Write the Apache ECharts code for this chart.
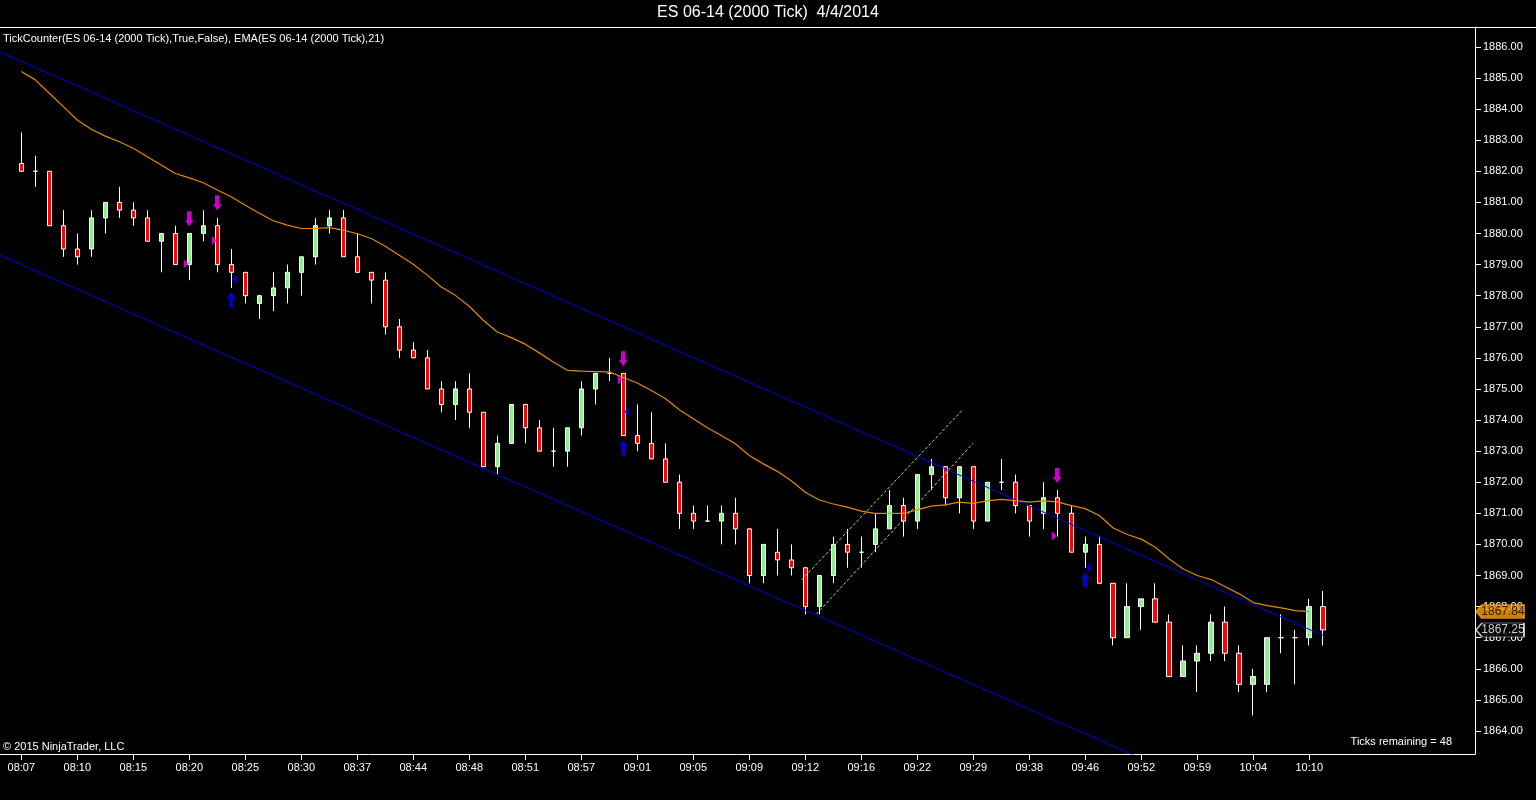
<!DOCTYPE html>
<html>
<head>
<meta charset="utf-8">
<title>ES 06-14 (2000 Tick)</title>
<script src="https://cdn.jsdelivr.net/npm/echarts@6.0.0/dist/echarts.min.js"></script>
<style>
  html, body { margin: 0; padding: 0; background: #000; }
  #main { width: 1536px; height: 800px; }
</style>
</head>
<body>
<div id="main"></div>
<script type="text/javascript">
// bar data, one entry per 2000-tick bar
var opens = [1882.25, 1882.0, 1882.0, 1880.25, 1879.5, 1879.5, 1880.5, 1881.0, 1880.75, 1880.5,
  1879.75, 1880.0, 1879.0, 1880.0, 1880.25, 1879.0, 1878.75, 1877.75, 1878.0, 1878.25,
  1878.75, 1879.25, 1880.25, 1880.5, 1879.25, 1878.75, 1878.5, 1877.0, 1876.25, 1876.0,
  1875.0, 1874.5, 1875.0, 1874.25, 1872.5, 1873.25, 1874.5, 1873.75, 1873.0, 1873.0,
  1873.75, 1875.0, 1875.5, 1875.5, 1873.5, 1873.25, 1872.75, 1872.0, 1871.0, 1870.75,
  1870.75, 1871.0, 1870.5, 1869.0, 1869.75, 1869.5, 1869.25, 1868.0, 1869.0, 1870.0,
  1869.75, 1870.0, 1870.5, 1871.25, 1870.75, 1872.25, 1872.5, 1871.5, 1872.5, 1870.75,
  1872.0, 1872.0, 1871.25, 1871.0, 1871.5, 1871.0, 1869.75, 1870.0, 1868.75, 1867.0,
  1868.0, 1868.25, 1867.5, 1865.75, 1866.25, 1866.5, 1867.5, 1866.5, 1865.5, 1865.5,
  1867.0, 1867.0, 1867.0, 1868.0];
var closes = [1882.0, 1882.0, 1880.25, 1879.5, 1879.25, 1880.5, 1881.0, 1880.75, 1880.5, 1879.75,
  1880.0, 1879.0, 1880.0, 1880.25, 1879.0, 1878.75, 1878.0, 1878.0, 1878.25, 1878.75,
  1879.25, 1880.25, 1880.5, 1879.25, 1878.75, 1878.5, 1877.0, 1876.25, 1876.0, 1875.0,
  1874.5, 1875.0, 1874.25, 1872.5, 1873.25, 1874.5, 1873.75, 1873.0, 1873.0, 1873.75,
  1875.0, 1875.5, 1875.5, 1873.5, 1873.25, 1872.75, 1872.0, 1871.0, 1870.75, 1870.75,
  1871.0, 1870.5, 1869.0, 1870.0, 1869.5, 1869.25, 1868.0, 1869.0, 1870.0, 1869.75,
  1869.75, 1870.5, 1871.25, 1870.75, 1872.25, 1872.5, 1871.5, 1872.5, 1870.75, 1872.0,
  1872.0, 1871.25, 1870.75, 1871.5, 1871.0, 1869.75, 1870.0, 1868.75, 1867.0, 1868.0,
  1868.25, 1867.5, 1865.75, 1866.25, 1866.5, 1867.5, 1866.5, 1865.5, 1865.75, 1867.0,
  1867.0, 1867.0, 1868.0, 1867.25];
var lows = [1882.0, 1881.5, 1880.25, 1879.25, 1879.0, 1879.25, 1880.0, 1880.5, 1880.25, 1879.75,
  1878.75, 1879.0, 1878.5, 1879.75, 1878.75, 1878.25, 1877.75, 1877.25, 1877.5, 1877.75,
  1878.0, 1879.0, 1880.0, 1879.25, 1878.75, 1877.75, 1876.75, 1876.0, 1876.0, 1875.0,
  1874.25, 1874.0, 1873.75, 1872.5, 1872.25, 1873.25, 1873.25, 1873.0, 1872.5, 1872.5,
  1873.5, 1874.5, 1875.25, 1873.5, 1873.0, 1872.75, 1872.0, 1870.5, 1870.5, 1870.75,
  1870.0, 1870.0, 1868.75, 1868.75, 1869.0, 1869.0, 1867.75, 1867.75, 1868.75, 1869.25,
  1869.25, 1869.75, 1870.5, 1870.25, 1870.5, 1871.75, 1871.25, 1871.0, 1870.5, 1870.75,
  1871.75, 1871.0, 1870.25, 1870.5, 1870.25, 1869.75, 1869.25, 1868.75, 1866.75, 1867.0,
  1867.25, 1867.5, 1865.75, 1865.75, 1865.25, 1866.25, 1866.25, 1865.25, 1864.5, 1865.25,
  1866.5, 1865.5, 1866.75, 1866.75];
var highs = [1883.25, 1882.5, 1882.0, 1880.75, 1880.0, 1880.75, 1881.0, 1881.5, 1881.0, 1880.75,
  1880.0, 1880.25, 1880.0, 1880.75, 1880.5, 1879.5, 1878.75, 1878.0, 1878.75, 1879.0,
  1879.25, 1880.5, 1880.75, 1880.75, 1880.0, 1878.75, 1878.75, 1877.25, 1876.5, 1876.25,
  1875.25, 1875.25, 1875.5, 1874.25, 1873.5, 1874.5, 1874.5, 1874.0, 1873.75, 1873.75,
  1875.25, 1875.5, 1876.0, 1875.5, 1874.5, 1874.25, 1873.25, 1872.25, 1871.25, 1871.25,
  1871.25, 1871.5, 1870.5, 1870.0, 1870.5, 1870.0, 1869.25, 1869.0, 1870.25, 1870.5,
  1870.25, 1871.0, 1871.75, 1871.5, 1872.25, 1872.75, 1872.5, 1872.5, 1872.5, 1872.0,
  1872.75, 1872.25, 1871.25, 1872.0, 1871.75, 1871.25, 1870.25, 1870.25, 1868.75, 1868.75,
  1868.25, 1868.75, 1867.75, 1866.75, 1866.75, 1867.75, 1868.0, 1866.75, 1866.0, 1867.0,
  1867.75, 1867.25, 1868.25, 1868.5];

// EMA(21), not plotted for the bar still forming
var ema21 = [1885.21, 1884.94, 1884.51, 1884.08, 1883.65, 1883.35, 1883.13, 1882.95, 1882.74, 1882.47,
  1882.20, 1881.93, 1881.79, 1881.63, 1881.40, 1881.18, 1880.91, 1880.65, 1880.41, 1880.27,
  1880.16, 1880.16, 1880.19, 1880.11, 1879.99, 1879.84, 1879.59, 1879.30, 1879.01, 1878.66,
  1878.28, 1878.01, 1877.66, 1877.21, 1876.83, 1876.65, 1876.44, 1876.16, 1875.87, 1875.60,
  1875.57, 1875.56, 1875.55, 1875.37, 1875.19, 1874.95, 1874.69, 1874.33, 1874.04, 1873.75,
  1873.50, 1873.24, 1872.86, 1872.59, 1872.35, 1872.05, 1871.68, 1871.43, 1871.30, 1871.20,
  1871.07, 1871.00, 1871.00, 1871.00, 1871.11, 1871.23, 1871.27, 1871.36, 1871.32, 1871.40,
  1871.45, 1871.41, 1871.36, 1871.40, 1871.37, 1871.25, 1871.15, 1870.93, 1870.53, 1870.32,
  1870.17, 1869.91, 1869.53, 1869.21, 1869.00, 1868.87, 1868.64, 1868.41, 1868.13, 1868.03,
  1867.96, 1867.87, 1867.84];

// x axis labels, one every 4 bars
var timeLabels = ['08:07', '08:10', '08:15', '08:20', '08:25', '08:30', '08:37', '08:44', '08:48', '08:51',
  '08:57', '09:01', '09:05', '09:09', '09:12', '09:16', '09:22', '09:29', '09:38', '09:46',
  '09:52', '09:59', '10:04', '10:10'];
var timeLabelPos = [0, 4, 8, 12, 16, 20, 24, 28, 32, 36, 40, 44, 48, 52, 56, 60, 64,
  68, 72, 76, 80, 84, 88, 92];
var priceTicks = [1864, 1865, 1866, 1867, 1868, 1869, 1870, 1871, 1872, 1873, 1874, 1875,
  1876, 1877, 1878, 1879, 1880, 1881, 1882, 1883, 1884, 1885, 1886];

// drawn objects: regression channel and the short up channel
var upperChannel = [[-1.52, 1885.84], [93, 1867.07]];
var lowerChannel = [[-1.52, 1879.30], [93, 1860.53]];
var upperDash = [[55.74, 1868.86], [67.26, 1874.34]];
var lowerDash = [[56.81, 1867.76], [67.98, 1873.25]];

// TickCounter signals
var sellArrows = [[12, 1880.47], [14, 1880.99], [43, 1875.97], [74, 1872.22]];
var buyArrows = [[15, 1877.88], [43, 1873.11], [76, 1868.86]];
var sellMarks = [[12, 1879.03], [14, 1879.77], [43, 1875.29], [74, 1870.27]];
var buyMarks = [[15, 1878.51], [43, 1874.27], [76, 1869.26]];

var xMin = -1.52, xMax = 103.84;
var yMin = 1863.26, yMax = 1886.64;
var FONT = '"Liberation Sans", Arial, sans-serif';

var candles = [];
for (var i = 0; i < opens.length; i++) {
  candles.push([i, opens[i], closes[i], lows[i], highs[i]]);
}
var emaData = ema21.map(function (v, i) { return [i, v]; });
var lastClose = closes[closes.length - 1];
var lastEma = ema21[ema21.length - 1];

function lineSeries(data, color, type) {
  return {
    type: 'line',
    data: data,
    symbol: 'none',
    silent: true,
    clip: true,
    z: 4,
    lineStyle: { color: color, width: 1, type: type || 'solid' }
  };
}

var myChart = echarts.init(document.getElementById('main'));

var option = {
  backgroundColor: '#000',
  animation: false,
  grid: { left: 0, right: 61, top: 27, bottom: 46, containLabel: false },
  xAxis: {
    type: 'value',
    min: xMin,
    max: xMax,
    axisLine: { show: true, onZero: false, lineStyle: { color: '#fff', width: 1 } },
    axisTick: { show: true, length: 6, lineStyle: { color: '#fff' }, customValues: timeLabelPos },
    axisLabel: {
      show: true,
      color: '#fff',
      fontSize: 11,
      fontFamily: FONT,
      margin: 8,
      customValues: timeLabelPos,
      formatter: function (v) {
        var k = timeLabelPos.indexOf(v);
        return k >= 0 ? timeLabels[k] : '';
      }
    },
    splitLine: { show: false }
  },
  yAxis: {
    type: 'value',
    position: 'right',
    min: yMin,
    max: yMax,
    axisLine: { show: true, onZero: false, lineStyle: { color: '#fff', width: 1 } },
    axisTick: { show: true, length: 6, lineStyle: { color: '#fff' }, customValues: priceTicks },
    axisLabel: {
      show: true,
      color: '#fff',
      fontSize: 11,
      fontFamily: FONT,
      margin: 8,
      customValues: priceTicks,
      formatter: function (v) { return v.toFixed(2); }
    },
    splitLine: { show: false }
  },
  series: [
    {
      name: 'ES 06-14',
      type: 'candlestick',
      data: candles,
      encode: { x: 0, y: [1, 2, 3, 4] },
      barWidth: 5,
      z: 2,
      itemStyle: {
        color: '#90ee90',
        color0: '#ff0000',
        borderColor: '#ffffff',
        borderColor0: '#ffffff',
        borderColorDoji: '#ffffff',
        borderWidth: 1
      }
    },
    lineSeries(upperChannel, '#0000e6'),
    lineSeries(lowerChannel, '#0000e6'),
    lineSeries(upperDash, '#b4e03c', [3, 2]),
    lineSeries(lowerDash, '#b4e03c', [3, 2]),
    {
      name: 'EMA',
      type: 'line',
      data: emaData,
      symbol: 'none',
      z: 5,
      lineStyle: { color: '#e08a00', width: 1.2 }
    },
    {
      type: 'scatter',
      data: sellArrows,
      symbol: 'path://M2.5,0 L7.5,0 L7.5,9 L10,9 L5,15 L0,9 L2.5,9 Z',
      symbolSize: [9, 15],
      itemStyle: { color: '#ff00ff' },
      z: 6
    },
    {
      type: 'scatter',
      data: buyArrows,
      symbol: 'path://M5,0 L10,6 L7.5,6 L7.5,15 L2.5,15 L2.5,6 L0,6 Z',
      symbolSize: [9, 15],
      itemStyle: { color: '#0000ff' },
      z: 6
    },
    {
      type: 'scatter',
      data: sellMarks,
      symbol: 'path://M0,0 L6,5 L0,10 Z',
      symbolSize: [5, 9],
      symbolOffset: [-3, 0],
      itemStyle: { color: '#ff00ff' },
      z: 6
    },
    {
      type: 'scatter',
      data: buyMarks,
      symbol: 'path://M6,0 L0,5 L6,10 Z',
      symbolSize: [5, 9],
      symbolOffset: [3, 0],
      itemStyle: { color: '#0000ff' },
      z: 6
    },
    {
      // price tags on the right-hand axis
      type: 'scatter',
      clip: false,
      silent: true,
      z: 10,
      symbol: 'path://M0,8 L6,0 L48,0 L48,16 L6,16 Z',
      symbolSize: [48, 14],
      symbolOffset: [25, 0],
      data: [
        {
          value: [xMax, lastEma],
          itemStyle: { color: '#ffa500', borderColor: '#ffa500' },
          label: { color: '#000' }
        },
        {
          value: [xMax, lastClose],
          itemStyle: { color: '#000', borderColor: '#ffffff', borderWidth: 1 },
          label: { color: '#fff' }
        }
      ],
      label: {
        show: true,
        position: 'inside',
        align: 'center',
        verticalAlign: 'middle',
        offset: [3, 0],
        fontSize: 12,
        fontFamily: FONT,
        formatter: function (p) { return p.value[1].toFixed(2); }
      }
    }
  ],
  graphic: [
    {
      type: 'line',
      shape: { x1: 0, y1: 27.5, x2: 1536, y2: 27.5 },
      style: { stroke: '#fff', lineWidth: 1 },
      silent: true
    },
    {
      type: 'text',
      x: 768, y: 13,
      style: { text: 'ES 06-14 (2000 Tick)  4/4/2014', fill: '#fff', fontSize: 16, fontFamily: FONT, align: 'center', verticalAlign: 'middle' }
    },
    {
      type: 'text',
      x: 3, y: 39,
      style: { text: 'TickCounter(ES 06-14 (2000 Tick),True,False), EMA(ES 06-14 (2000 Tick),21)', fill: '#fff', fontSize: 11, fontFamily: FONT, align: 'left', verticalAlign: 'middle' }
    },
    {
      type: 'text',
      x: 3, y: 747,
      style: { text: '\u00a9 2015 NinjaTrader, LLC', fill: '#fff', fontSize: 11, fontFamily: FONT, align: 'left', verticalAlign: 'middle' }
    },
    {
      type: 'text',
      x: 1452, y: 742,
      style: { text: 'Ticks remaining = 48', fill: '#fff', fontSize: 11, fontFamily: FONT, align: 'right', verticalAlign: 'middle' }
    }
  ]
};

myChart.setOption(option);
</script>
</body>
</html>
